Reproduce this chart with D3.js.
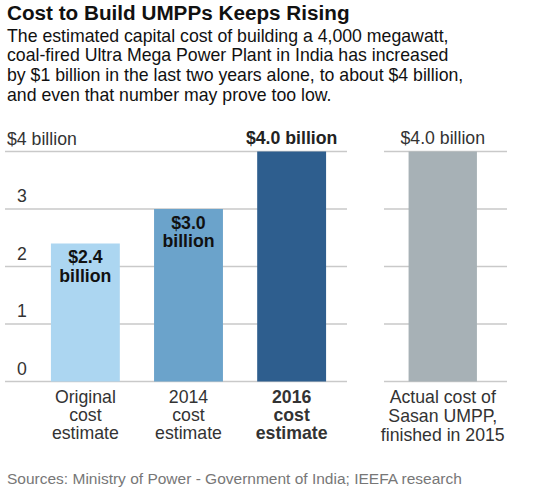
<!DOCTYPE html>
<html><head><meta charset="utf-8">
<script src="https://cdn.jsdelivr.net/npm/d3@7"></script>
<style>body{margin:0;background:#fff}svg{font-family:"Liberation Sans",Arial,sans-serif}</style>
</head><body><svg id="c" width="535" height="490"></svg>
<script>
const categories = ["Original cost estimate","2014 cost estimate","2016 cost estimate"];
const catLines = [["Original","cost","estimate"],["2014","cost","estimate"],["2016","cost","estimate"]];
const values = [2.4, 3.0, 4.0];
const barLabels = [["$2.4","billion"],["$3.0","billion"],["$4.0 billion"]];
const colors = ["#acd6f1","#6ba3cb","#2e5e8e"];
const actualCategory = "Actual cost of Sasan UMPP";
const actualLines = ["Actual cost of","Sasan UMPP,","finished in 2015"];
const actualValue = 4.0;
const actualLabel = "$4.0 billion";
const yTicks = [0,1,2,3,4];
const yTickLabels = ["0","1","2","3","$4 billion"];
const title = "Cost to Build UMPPs Keeps Rising";
const subtitle = ["The estimated capital cost of building a 4,000 megawatt,","coal-fired Ultra Mega Power Plant in India has increased","by $1 billion in the last two years alone, to about $4 billion,","and even that number may prove too low."];
const source = "Sources: Ministry of Power - Government of India; IEEFA research";

const FS = 17.7;
const svg = d3.select("#c");
const y = d3.scaleLinear().domain([0,4]).range([381.5,151.5]);
const x = d3.scaleBand().domain(categories).range([33.8,343.2]).paddingInner(0.332).paddingOuter(0.166);
const x2 = d3.scaleBand().domain([actualCategory]).range([391.6,493.9]).paddingInner(0.332).paddingOuter(0.166);

svg.append("text").attr("x",7).attr("y",19.5).attr("font-size",20.7).attr("font-weight","bold").attr("fill","#111").text(title);
svg.append("g").selectAll("text").data(subtitle).join("text")
  .attr("x",7).attr("y",(d,i)=>41.5+i*19.8).attr("font-size",FS).attr("fill","#111").text(d=>d);

// gridlines
const grid = svg.append("g");
grid.selectAll("line.l").data(yTicks).join("line").attr("class","l")
  .attr("x1",5).attr("x2",347).attr("y1",d=>y(d)).attr("y2",d=>y(d))
  .attr("stroke","#c9c9c9").attr("stroke-width",1.3);
grid.selectAll("line.r").data(yTicks).join("line").attr("class","r")
  .attr("x1",384).attr("x2",507).attr("y1",d=>y(d)).attr("y2",d=>y(d))
  .attr("stroke","#c9c9c9").attr("stroke-width",1.3);
svg.append("g").selectAll("text").data(yTicks).join("text")
  .attr("x",(d,i)=>i===4?7:17).attr("y",d=>y(d)-7).attr("font-size",FS).attr("fill","#333")
  .text((d,i)=>yTickLabels[i]);

// bars
svg.append("g").selectAll("rect").data(values).join("rect")
  .attr("x",(d,i)=>x(categories[i])).attr("width",x.bandwidth())
  .attr("y",d=>y(d)).attr("height",d=>y(0)-y(d)).attr("fill",(d,i)=>colors[i]);
svg.append("rect").attr("x",x2(actualCategory)).attr("width",x2.bandwidth())
  .attr("y",y(actualValue)).attr("height",y(0)-y(actualValue)).attr("fill","#a7b1b6");

// bar labels
values.forEach((v,i)=>{
  const cx = x(categories[i])+x.bandwidth()/2;
  const lines = barLabels[i];
  if(lines.length===1){
    svg.append("text").attr("x",cx).attr("y",y(v)-8).attr("text-anchor","middle")
      .attr("font-size",FS).attr("font-weight","bold").attr("fill","#222").text(lines[0]);
  } else {
    lines.forEach((t,j)=>svg.append("text").attr("x",cx).attr("y",y(v)+19.5+j*18.5)
      .attr("text-anchor","middle").attr("font-size",FS).attr("font-weight","bold").attr("fill","#111").text(t));
  }
  catLines[i].forEach((t,j)=>svg.append("text").attr("x",cx).attr("y",402.5+j*18.3)
    .attr("text-anchor","middle").attr("font-size",FS).attr("font-weight",i===2?"bold":"normal")
    .attr("fill","#333").text(t));
});
const cx2 = x2(actualCategory)+x2.bandwidth()/2;
svg.append("text").attr("x",cx2).attr("y",y(actualValue)-8).attr("text-anchor","middle")
  .attr("font-size",FS).attr("fill","#333").text(actualLabel);
actualLines.forEach((t,j)=>svg.append("text").attr("x",cx2).attr("y",402.5+j*19.3)
  .attr("text-anchor","middle").attr("font-size",FS).attr("fill","#333").text(t));

svg.append("text").attr("x",7).attr("y",483.5).attr("font-size",15.5).attr("fill","#777").text(source);
</script></body></html>
